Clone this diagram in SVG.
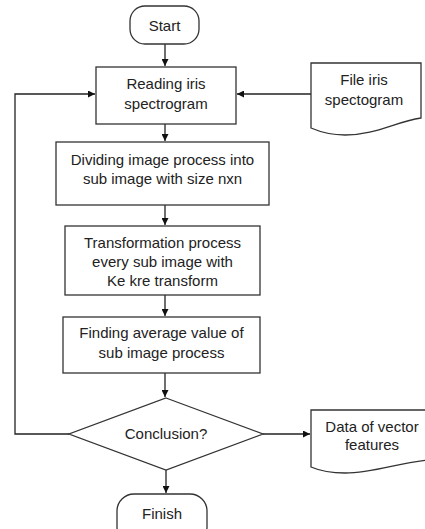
<svg xmlns="http://www.w3.org/2000/svg" width="425" height="529" viewBox="0 0 425 529">
<defs>
<style>
.s{fill:#fff;stroke:#333;stroke-width:1.3}
.t{font-family:"Liberation Sans",Arial,sans-serif;font-size:15px;fill:#222;text-anchor:middle}
.c{fill:none;stroke:#222;stroke-width:1.3}
</style>
<marker id="a" viewBox="0 0 10 10" refX="10" refY="5" markerWidth="7" markerHeight="7" markerUnits="userSpaceOnUse" orient="auto">
<path d="M0,0 L10,5 L0,10 z" fill="#111"/>
</marker>
</defs>
<rect width="425" height="529" fill="#fff"/>
<g id="connectors">
<line class="c" x1="165" y1="44" x2="165" y2="66" marker-end="url(#a)"/>
<line class="c" x1="311" y1="94" x2="237" y2="94" marker-end="url(#a)"/>
<polyline class="c" points="69,434 15,434 15,94 95,94" marker-end="url(#a)"/>
<line class="c" x1="165" y1="124" x2="165" y2="141" marker-end="url(#a)"/>
<line class="c" x1="165" y1="205" x2="165" y2="225" marker-end="url(#a)"/>
<line class="c" x1="165" y1="295" x2="165" y2="316" marker-end="url(#a)"/>
<line class="c" x1="165" y1="373" x2="165" y2="397" marker-end="url(#a)"/>
<line class="c" x1="263" y1="434" x2="310" y2="434" marker-end="url(#a)"/>
<line class="c" x1="166" y1="470" x2="166" y2="493" marker-end="url(#a)"/>
</g>
<g id="start">
<rect class="s" x="130" y="6" width="69" height="38" rx="15"/>
<text class="t" x="164.5" y="31">Start</text>
</g>
<g id="reading">
<rect class="s" x="96" y="67" width="140" height="57"/>
<text class="t" x="166" y="89">Reading iris</text>
<text class="t" x="166" y="109">spectrogram</text>
</g>
<g id="file">
<path class="s" d="M311,63 H421 V118 C395,122 375,135 345,135 C330,135 318,131 311,128 Z"/>
<text class="t" x="364" y="85">File iris</text>
<text class="t" x="364" y="105">spectogram</text>
</g>
<g id="dividing">
<rect class="s" x="56" y="142" width="213" height="63"/>
<text class="t" x="162.5" y="165">Dividing image process into</text>
<text class="t" x="162.5" y="184">sub image with size nxn</text>
</g>
<g id="transformation">
<rect class="s" x="65" y="226" width="195" height="69"/>
<text class="t" x="162.5" y="248">Transformation process</text>
<text class="t" x="162.5" y="267">every sub image with</text>
<text class="t" x="162.5" y="286">Ke kre transform</text>
</g>
<g id="finding">
<rect class="s" x="63" y="317" width="197" height="56"/>
<text class="t" x="161.5" y="338">Finding average value of</text>
<text class="t" x="161.5" y="358">sub image process</text>
</g>
<g id="conclusion">
<polygon class="s" points="166,398 263,434 166,470 69,434"/>
<text class="t" x="166" y="439">Conclusion?</text>
</g>
<g id="data">
<path class="s" d="M311,410 H430 V460 C400,462 375,473 345,473 C330,473 318,470 311,467 Z"/>
<text class="t" x="372" y="432">Data of vector</text>
<text class="t" x="372" y="450">features</text>
</g>
<g id="finish">
<rect class="s" x="117" y="494" width="90" height="50" rx="17"/>
<text class="t" x="162" y="519">Finish</text>
</g>
</svg>
